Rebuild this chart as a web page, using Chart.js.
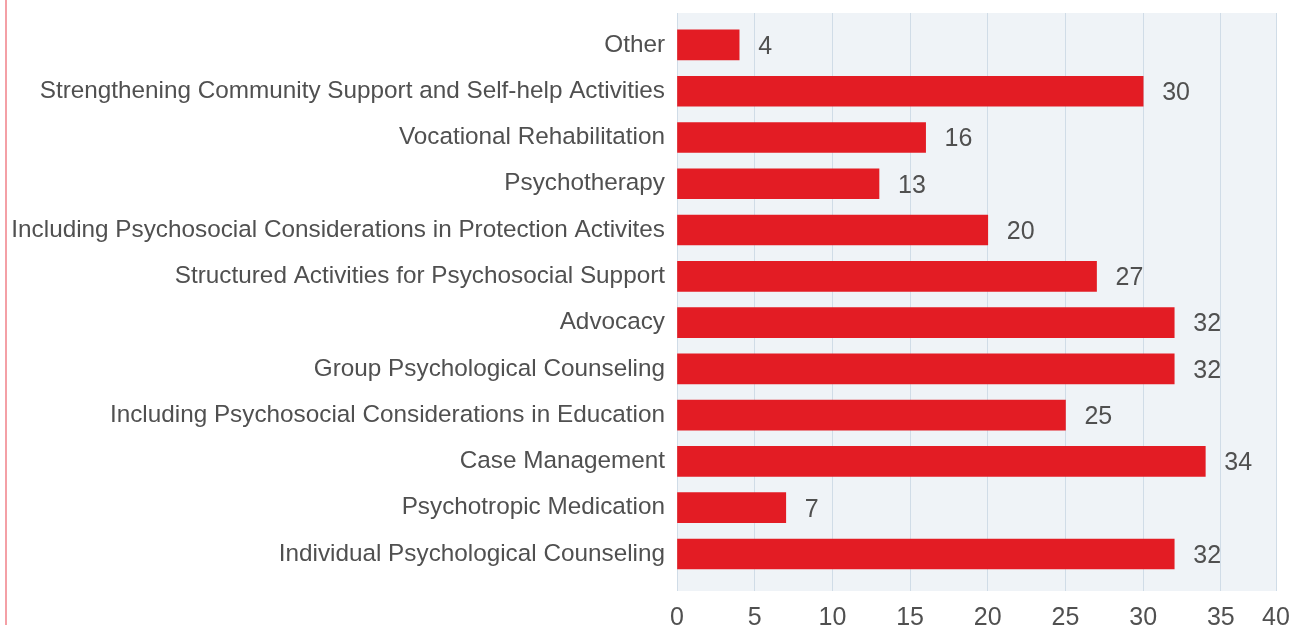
<!DOCTYPE html>
<html lang="en">
<head>
    <meta charset="UTF-8">
    <title>Psychosocial Activities</title>
    <script src="https://cdn.jsdelivr.net/npm/chart.js"></script>
    <style>
        body { margin: 0; background: #fff; }
        .wrap { position: relative; width: 1293px; height: 625px; }
        .wrap::before {
            content: ''; position: absolute; left: 5px; top: 0; bottom: 0;
            width: 2px; background: #f4a0a6;
        }
    </style>
</head>
<body>
    <div class="wrap">
        <canvas id="actChart"></canvas>
    </div>

    <script>
        // categories, top to bottom
        const categories = [
            'Other',
            'Strengthening Community Support and Self-help Activities',
            'Vocational Rehabilitation',
            'Psychotherapy',
            'Including Psychosocial Considerations in Protection Activites',
            'Structured Activities for Psychosocial Support',
            'Advocacy',
            'Group Psychological Counseling',
            'Including Psychosocial Considerations in Education',
            'Case Management',
            'Psychotropic Medication',
            'Individual Psychological Counseling'
        ];
        const counts = [4, 30, 16, 13, 20, 27, 32, 32, 25, 34, 7, 32];

        // x axis tick labels (last one sits on the right edge of the plot)
        const xTickLabels = [0, 5, 10, 15, 20, 25, 30, 35, 40];
        const xAxisMax = 38.55;

        const textColor = '#505050';
        const fontFamily = '"Liberation Sans", Arial, Helvetica, sans-serif';

        // fond du graphique
        const plotBackground = {
            id: 'plotBackground',
            beforeDraw(chart) {
                const a = chart.chartArea;
                const ctx = chart.ctx;
                ctx.save();
                ctx.fillStyle = '#eff3f7';
                ctx.fillRect(a.left, a.top, a.right - a.left, a.bottom - a.top);
                ctx.restore();
            }
        };

        // valeurs à droite des barres
        const valueLabels = {
            id: 'valueLabels',
            afterDatasetsDraw(chart) {
                const ctx = chart.ctx;
                const meta = chart.getDatasetMeta(0);
                ctx.save();
                ctx.font = '25px ' + fontFamily;
                ctx.fillStyle = textColor;
                ctx.textAlign = 'left';
                ctx.textBaseline = 'middle';
                meta.data.forEach(function(bar, i) {
                    ctx.fillText(String(counts[i]), bar.x + 19, bar.y + 2);
                });
                ctx.restore();
            }
        };

        const data = {
            datasets: [{
                data: counts.map((v, i) => ({ x: v, y: i })),
                backgroundColor: '#e31c24',
                borderWidth: 0,
                barThickness: 30
            }]
        };

        const config = {
            type: 'bar',
            data: data,
            options: {
                indexAxis: 'y',
                responsive: true,
                maintainAspectRatio: false,
                animation: false,
                layout: { padding: { top: 13, right: 17, left: 0, bottom: 0 } },
                plugins: {
                    legend: { display: false },
                    tooltip: { enabled: false }
                },
                scales: {
                    y: {
                        type: 'linear',
                        reverse: true,
                        offset: false,
                        min: -0.69,
                        max: 11.8,
                        afterBuildTicks: function(scale) {
                            scale.ticks = categories.map((c, i) => ({ value: i }));
                        },
                        afterFit: function(scale) {
                            scale.width = 677;
                            scale.paddingTop = 0;
                            scale.paddingBottom = 0;
                        },
                        grid: { display: false, drawTicks: false, offset: false },
                        border: { display: false },
                        ticks: {
                            autoSkip: false,
                            padding: 12,
                            color: textColor,
                            font: { family: fontFamily, size: 24.3 },
                            callback: function(v) { return categories[v]; }
                        }
                    },
                    x: {
                        type: 'linear',
                        min: 0,
                        max: xAxisMax,
                        afterBuildTicks: function(scale) {
                            scale.ticks = xTickLabels.map(v => ({ value: Math.min(v, xAxisMax) }));
                        },
                        afterFit: function(scale) {
                            scale.height = 34;
                            scale.paddingLeft = 0;
                            scale.paddingRight = 0;
                        },
                        grid: { color: '#d0dce7', lineWidth: 1, drawTicks: false },
                        border: { display: false },
                        ticks: {
                            autoSkip: false,
                            maxRotation: 0,
                            padding: 12,
                            color: textColor,
                            font: { family: fontFamily, size: 25 },
                            callback: function(v, i) { return String(xTickLabels[i]); }
                        }
                    }
                }
            },
            plugins: [plotBackground, valueLabels]
        };

        new Chart(document.getElementById('actChart'), config);
    </script>
</body>
</html>
